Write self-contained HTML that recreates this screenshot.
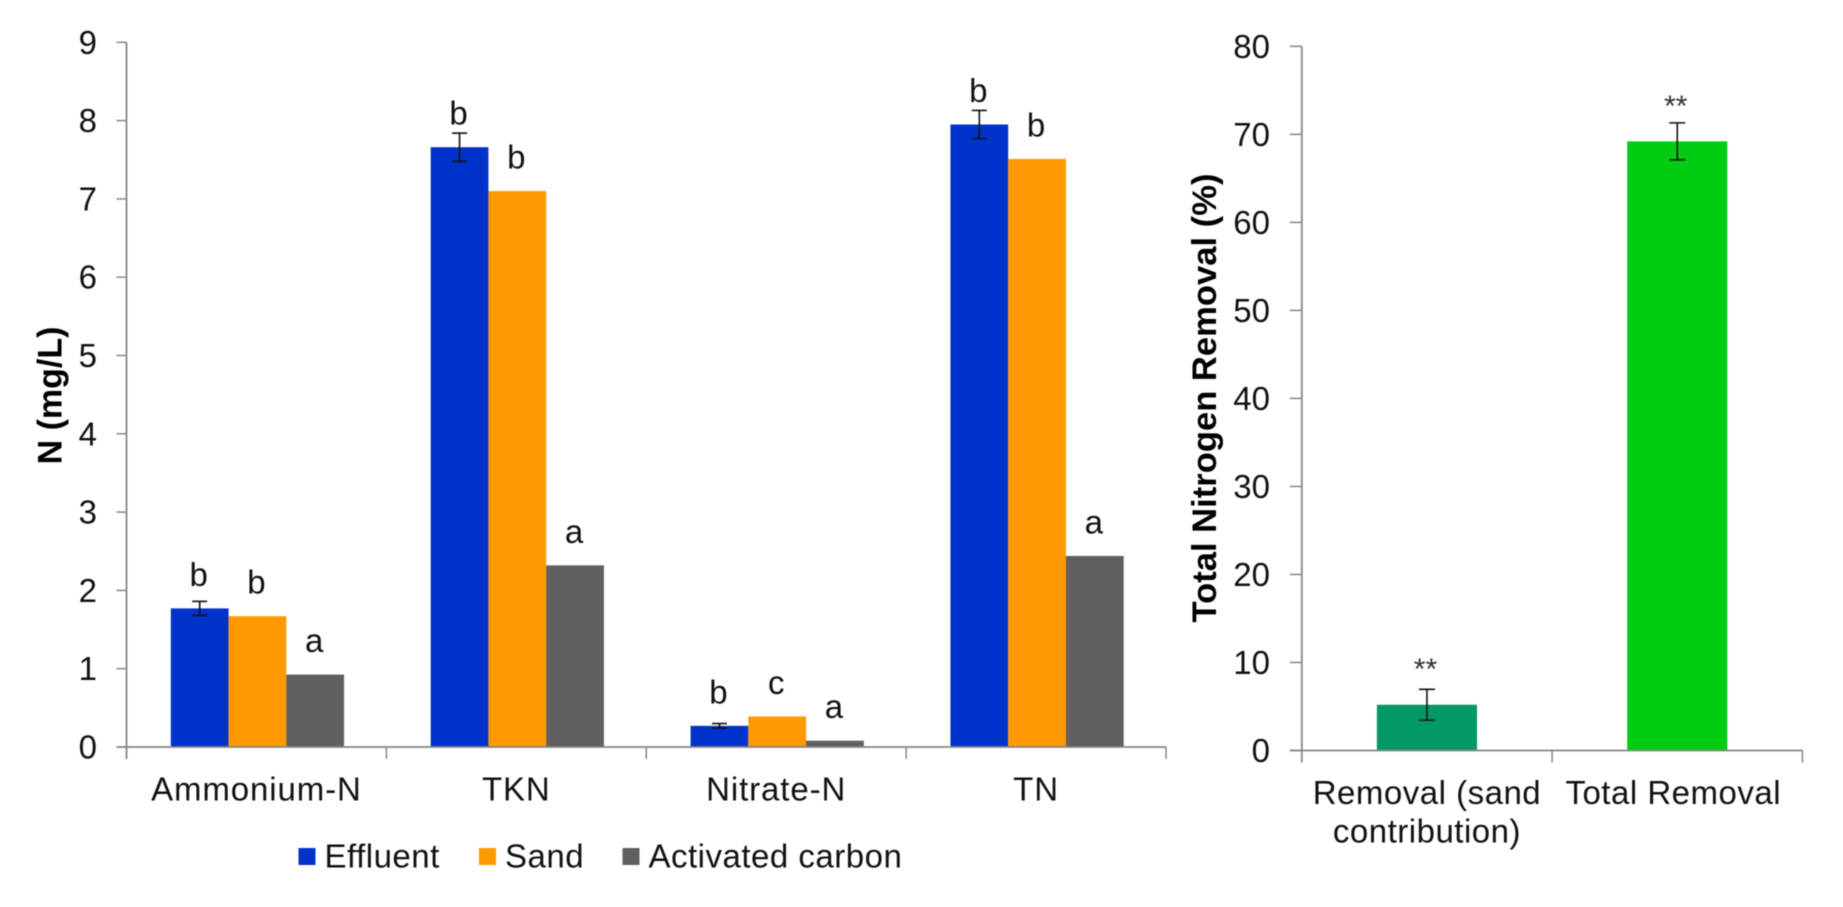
<!DOCTYPE html>
<html lang="en">
<head>
<meta charset="utf-8">
<title>Nitrogen concentrations and removal</title>
<style>
  html, body { margin: 0; padding: 0; background: #ffffff; }
  svg { display: block; }
  text { font-family: "Liberation Sans", Arial, sans-serif; fill: #111111; }
</style>
</head>
<body>
<svg id="figure" xmlns="http://www.w3.org/2000/svg" width="1843" height="907" viewBox="0 0 1843 907">
  <g id="blur-root" style="filter: blur(0.6px)"></g>
</svg>
<script>
// Left chart data
const categories = ["Ammonium-N", "TKN", "Nitrate-N", "TN"];
const seriesNames = ["Effluent", "Sand", "Activated carbon"];
const effluentValues = [1.77, 7.66, 0.27, 7.95];
const sandValues = [1.67, 7.10, 0.39, 7.51];
const carbonValues = [0.925, 2.32, 0.08, 2.44];
const effluentErrors = [0.09, 0.18, 0.03, 0.18];
const effluentLetters = ["b", "b", "b", "b"];
const sandLetters = ["b", "b", "c", "b"];
const carbonLetters = ["a", "a", "a", "a"];
const leftTicks = [0, 1, 2, 3, 4, 5, 6, 7, 8, 9];

// Right chart data
const removalCategories = [["Removal (sand", "contribution)"], ["Total Removal"]];
const removalValues = [5.2, 69.2];
const removalErrors = [1.75, 2.1];
const removalMarks = ["**", "**"];
const rightTicks = [0, 10, 20, 30, 40, 50, 60, 70, 80];

const NS = "http://www.w3.org/2000/svg";
const root = document.getElementById("blur-root");
const AXIS = "#868686";
const BLUE = "#0033cc";
const ORANGE = "#ff9900";
const GRAY = "#5f5f5f";
const TEAL = "#009966";
const GREEN = "#00cc11";
const FONT = 33;

function make(tag, attrs, name, parent) {
  const el = document.createElementNS(NS, tag);
  for (const k in attrs) el.setAttribute(k, attrs[k]);
  
  
  (parent || root).appendChild(el);
  return el;
}
function line(x1, y1, x2, y2, stroke, width, name, parent) {
  return make("line", { x1, y1, x2, y2, stroke, "stroke-width": width }, name, parent);
}
function rect(x, y, w, h, fill, name, parent) {
  return make("rect", { x, y, width: w, height: h, fill }, name, parent);
}
function label(x, y, str, anchor, size, extra, name, parent) {
  const attrs = Object.assign({ x, y, "text-anchor": anchor, "font-size": size }, extra || {});
  const el = make("text", attrs, name, parent);
  el.textContent = str;
  return el;
}

/* ---------- left chart ---------- */
const leftPlot = { x0: 126.5, x1: 1166, y0: 747, yTop: 42.3, max: 9 };
const ly = v => leftPlot.y0 - (v / leftPlot.max) * (leftPlot.y0 - leftPlot.yTop);
const catW = (leftPlot.x1 - leftPlot.x0) / categories.length;
const barW = catW / 4.5;
const barX = (c, s) => leftPlot.x0 + 1 + catW * c + catW / 2 - 1.5 * barW + s * barW;

const leftG = make("g", {}, "concentration-chart");
const seriesValues = [effluentValues, sandValues, carbonValues];
const seriesColors = [BLUE, ORANGE, GRAY];
const seriesLetters = [effluentLetters, sandLetters, carbonLetters];

seriesValues.forEach((vals, s) => {
  vals.forEach((v, c) => {
    rect(barX(c, s), ly(v), barW, leftPlot.y0 - ly(v), seriesColors[s], "bar-" + seriesNames[s].toLowerCase().replace(/ /g, "-") + "-" + categories[c].toLowerCase(), leftG);
    label(barX(c, s) + barW / 2 - 1, ly(v) - 22.5, seriesLetters[s][c], "middle", FONT, {}, "significance-letter", leftG);
  });
});
effluentValues.forEach((v, c) => {
  const cx = barX(c, 0) + barW / 2;
  const e = effluentErrors[c];
  line(cx, ly(v + e), cx, ly(v - e), "#111", 1.6, "error-bar-stem", leftG);
  line(cx - 7.5, ly(v + e), cx + 7.5, ly(v + e), "#111", 1.6, "error-bar-cap-top", leftG);
  line(cx - 7.5, ly(v - e), cx + 7.5, ly(v - e), "#111", 1.6, "error-bar-cap-bottom", leftG);
});

line(leftPlot.x0, leftPlot.yTop, leftPlot.x0, leftPlot.y0 + 12, AXIS, 1.8, "y-axis-line", leftG);
line(leftPlot.x0 - 10, leftPlot.y0, leftPlot.x1, leftPlot.y0, AXIS, 1.8, "x-axis-line", leftG);
leftTicks.forEach(t => {
  line(leftPlot.x0 - 10, ly(t), leftPlot.x0, ly(t), AXIS, 1.5, "y-tick", leftG);
  label(97, ly(t) + 11.5, String(t), "end", FONT, {}, "y-tick-label", leftG);
});
categories.forEach((cat, c) => {
  line(leftPlot.x0 + catW * (c + 1), leftPlot.y0, leftPlot.x0 + catW * (c + 1), leftPlot.y0 + 12, AXIS, 1.5, "x-tick", leftG);
  label(leftPlot.x0 + catW * (c + 0.5), 800.7, cat, "middle", FONT, { "letter-spacing": "0.9" }, "x-category-label", leftG);
});
label(0, 0, "N (mg/L)", "middle", 34, { "font-weight": "bold", transform: "translate(61.7 395.5) rotate(-90)", style: "fill:#000" }, "y-axis-title", leftG);

/* legend */
const legendG = make("g", {}, "legend");
const legendSwatchX = [298.5, 479, 622.5];
seriesNames.forEach((n, i) => {
  rect(legendSwatchX[i], 848, 17, 17, seriesColors[i], "legend-swatch", legendG);
  label(legendSwatchX[i] + 26, 867.7, n, "start", FONT, { "letter-spacing": "0.5" }, "legend-entry", legendG);
});

/* ---------- right chart ---------- */
const rightPlot = { x0: 1301.8, x1: 1802.4, y0: 750.5, yTop: 46.3, max: 80 };
const ry = v => rightPlot.y0 - (v / rightPlot.max) * (rightPlot.y0 - rightPlot.yTop);
const rCatW = (rightPlot.x1 - rightPlot.x0) / removalValues.length;
const rBarW = rCatW / 2.5;
const rightG = make("g", {}, "removal-chart");
const removalColors = [TEAL, GREEN];

removalValues.forEach((v, i) => {
  const cx = rightPlot.x0 + rCatW * (i + 0.5);
  const e = removalErrors[i];
  rect(cx - rBarW / 2, ry(v), rBarW, rightPlot.y0 - ry(v), removalColors[i], "removal-bar", rightG);
  line(cx, ry(v + e), cx, ry(v - e), "#111", 1.6, "error-bar-stem", rightG);
  line(cx - 8, ry(v + e), cx + 8, ry(v + e), "#111", 1.6, "error-bar-cap-top", rightG);
  line(cx - 8, ry(v - e), cx + 8, ry(v - e), "#111", 1.6, "error-bar-cap-bottom", rightG);
  label(cx - 1.5, ry(v) - 43 + 17.5, removalMarks[i], "middle", 30, { style: "fill:#333" }, "significance-mark", rightG);
  removalCategories[i].forEach((ln, k) => {
    label(cx - (i ? 4 : 0), 804 + k * 38.7, ln, "middle", FONT, { "letter-spacing": "0.5" }, "x-category-label", rightG);
  });
  line(rightPlot.x0 + rCatW * (i + 1), rightPlot.y0, rightPlot.x0 + rCatW * (i + 1), rightPlot.y0 + 12, AXIS, 1.5, "x-tick", rightG);
});
line(rightPlot.x0, rightPlot.yTop, rightPlot.x0, rightPlot.y0 + 12, AXIS, 1.8, "y-axis-line", rightG);
line(rightPlot.x0 - 12, rightPlot.y0, rightPlot.x1, rightPlot.y0, AXIS, 1.8, "x-axis-line", rightG);
rightTicks.forEach(t => {
  line(rightPlot.x0 - 12, ry(t), rightPlot.x0, ry(t), AXIS, 1.5, "y-tick", rightG);
  label(1270, ry(t) + 11.5, String(t), "end", FONT, {}, "y-tick-label", rightG);
});
label(0, 0, "Total Nitrogen Removal (%)", "middle", 34.6, { "font-weight": "bold", transform: "translate(1216 398) rotate(-90)", style: "fill:#000" }, "y-axis-title", rightG);
</script>
</body>
</html>
